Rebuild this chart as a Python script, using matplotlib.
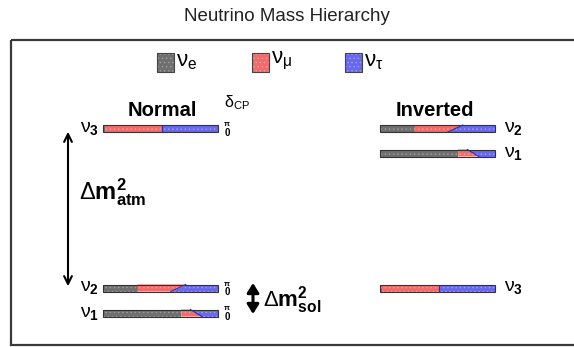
import matplotlib
matplotlib.use('Agg')
import matplotlib.pyplot as plt
from matplotlib.patches import Rectangle, Polygon

plt.rcParams['font.family'] = ['Liberation Sans', 'DejaVu Sans']
plt.rcParams['mathtext.fontset'] = 'custom'
plt.rcParams['mathtext.rm'] = 'Liberation Sans'
plt.rcParams['mathtext.it'] = 'Liberation Sans:italic'
plt.rcParams['mathtext.bf'] = 'Liberation Sans:bold'
plt.rcParams['hatch.linewidth'] = 0.6

# flavour content of each mass state (nu1, nu2, nu3)
states = ['1', '2', '3']
frac_e = [0.68, 0.30, 0.02]
frac_mu_delta0 = [0.18, 0.29, 0.49]   # delta_CP = 0
frac_mu_deltapi = [0.08, 0.42, 0.49]  # delta_CP = pi

flavours = ['e', r'\mu', r'\tau']
colors = ['#6f6f6f', '#f26a6a', '#6868ee']
hatch_colors = ['#9a9a9a', '#f79a9a', '#9a9af6']

# level heights (pixel rows) for each ordering
normal_rows = {'1': 313, '2': 288, '3': 128.5}
inverted_rows = {'1': 153, '2': 128.5, '3': 288}
normal_x0 = 103
inverted_x0 = 380
bar_w = 115
bar_h = 7

fig = plt.figure(figsize=(5.74, 3.47), dpi=100)
ax = fig.add_axes([0, 0, 1, 1])
ax.set_xlim(0, 574)
ax.set_ylim(347, 0)
ax.axis('off')

ax.text(287, 16, 'Neutrino Mass Hierarchy', ha='center', va='center', fontsize=13.5, color='#222222')
ax.add_patch(Rectangle((11, 40), 600, 305, fill=False, edgecolor='#3a3a3a', lw=1.6))

# legend
leg_x = [157, 252, 345]
for x, fl, c, hc in zip(leg_x, flavours, colors, hatch_colors):
    ax.add_patch(Rectangle((x, 53), 17, 19, facecolor=c, edgecolor=hc, hatch='....', lw=0))
    ax.add_patch(Rectangle((x, 53), 17, 19, fill=False, edgecolor='#444444', lw=0.8))
    ax.text(x + 19, 61, r'$\mathrm{\nu}_{\mathrm{%s}}$' % fl, ha='left', va='center', fontsize=16)


def draw_level(x0, yc, i):
    top = yc - bar_h / 2
    bot = yc + bar_h / 2
    xe = x0 + frac_e[i] * bar_w
    xm0 = xe + frac_mu_delta0[i] * bar_w
    xmpi = xe + frac_mu_deltapi[i] * bar_w
    shapes = [
        [(x0, bot), (xe, bot), (xe, top), (x0, top)],
        [(xe, bot), (xm0, bot), (xmpi, top), (xe, top)],
        [(xm0, bot), (x0 + bar_w, bot), (x0 + bar_w, top), (xmpi, top)],
    ]
    for pts, c, hc in zip(shapes, colors, hatch_colors):
        ax.add_patch(Polygon(pts, closed=True, facecolor=c, edgecolor=hc, hatch='....', lw=0))
    ax.plot([xm0, xmpi], [bot, top], color='#3030a0', lw=0.8)
    ax.add_patch(Rectangle((x0, top), bar_w, bar_h, fill=False, edgecolor='#333333', lw=0.8))


for i, s in enumerate(states):
    yn = normal_rows[s]
    draw_level(normal_x0, yn, i)
    ax.text(normal_x0 - 4, yn, r'$\mathrm{\nu}_{\mathbf{%s}}$' % s, ha='right', va='center', fontsize=14)
    ax.text(normal_x0 + bar_w + 9, yn - 4.5, r'$\mathbf{\pi}$', ha='center', va='center', fontsize=5.5)
    ax.text(normal_x0 + bar_w + 9, yn + 4, '0', ha='center', va='center', fontsize=7, fontweight='bold')

    yi = inverted_rows[s]
    draw_level(inverted_x0, yi, i)
    ax.text(inverted_x0 + bar_w + 9, yi, r'$\mathrm{\nu}_{\mathbf{%s}}$' % s, ha='left', va='center', fontsize=14)

ax.text(normal_x0 + bar_w / 2 + 2, 110, 'Normal', ha='center', va='center', fontsize=14.5, fontweight='bold')
ax.text(inverted_x0 + bar_w / 2 - 3, 110, 'Inverted', ha='center', va='center', fontsize=14.5, fontweight='bold')
ax.text(224, 103, r'$\mathrm{\delta}_{\mathrm{CP}}$', ha='left', va='center', fontsize=11.5)

# mass splittings
ax.annotate('', xy=(68, 129), xytext=(68, 289),
            arrowprops=dict(arrowstyle='<->', color='black', lw=1.5, mutation_scale=14))
ax.text(79, 192, r'$\mathrm{\Delta}\mathbf{m}^{\mathbf{2}}_{\mathbf{atm}}$', ha='left', va='center', fontsize=17)
ax.annotate('', xy=(253, 283), xytext=(253, 314),
            arrowprops=dict(arrowstyle='<|-|>,head_length=0.4,head_width=0.25', color='black',
                            lw=2.2, mutation_scale=14, shrinkA=0, shrinkB=0))
ax.text(263, 300, r'$\mathrm{\Delta}\mathbf{m}^{\mathbf{2}}_{\mathbf{sol}}$', ha='left', va='center', fontsize=16)

fig.savefig('out.png', dpi=100)
